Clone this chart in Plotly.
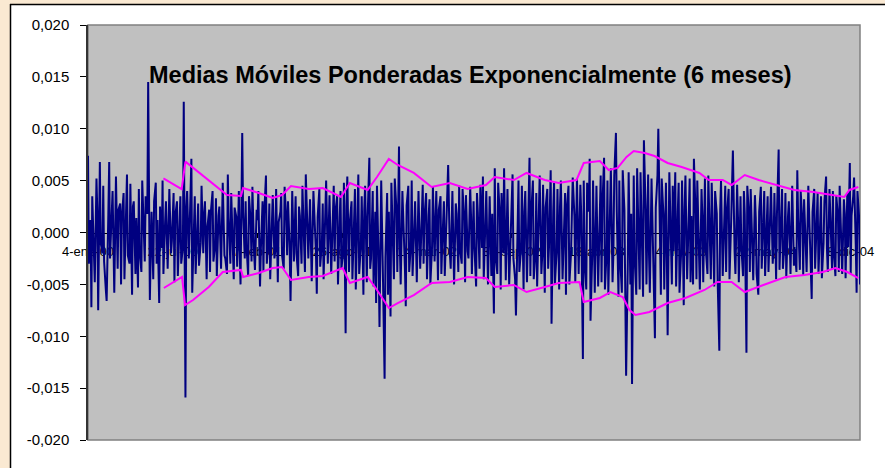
import plotly.graph_objects as go
import pandas as pd

# ---------------- data ----------------
# daily returns, sampled every 2 business days, values in units of 1e-4
ret_1e4 = [
    74, -30, 12, -72, 35, -15, -48, 52, 20, -75, 68, -10, -20, 45, -28,
    -55, -66, 18, 68, -25, 10, 40, -58, -12, 54, -35, 22, 28, -50, 15,
    38, -45, 8, 56, -22, -30, 47, -60, 25, 30, -40, 14, -53, 42, -18,
    -38, 50, -10, -28, 35, 18, 145, -65, -22, 20, -45, 30, 48, -30, 12,
    -68, 25, -15, 50, -40, 10, 30, -35, 20, 42, -20, -8, 38, -48, 16,
    30, -42, 12, 35, -30, -14, 126, -159, 24, 40, -25, 8, 71, -58, -20,
    35, -40, 15, 28, -32, -10, 45, -20, 18, 30, -45, 6, 22, -38, 20,
    40, -28, -12, 33, -42, 16, 25, -35, 10, 48, -22, -25, -40, 56, 14,
    -30, 38, -8, -45, 24, 15, -33, 40, -18, -50, 96, 20, -25, 30, -12,
    -42, 35, 10, -28, 44, -20, -36, 22, 12, 40, -52, -16, 30, -38, 18,
    55, -30, -6, 28, -45, 14, 36, -25, -18, 42, -48, 10, 20, 38, -22,
    -35, 44, 12, -22, 30, -15, -66, 40, 8, -28, 35, -20, -42, 25, 16,
    -30, 45, -14, -38, 56, 10, -25, 32, -18, -47, 40, 22, -20, -59, 15,
    42, -33, -10, 28, -45, 18, 50, -30, 12, 36, -40, -16, 45, -28, 20,
    35, -50, 14, 40, -35, -20, 48, -97, 25, 54, -38, 10, 30, -45, -18,
    42, -55, 18, 56, -40, -12, 35, -60, 22, 45, -48, 15, 72, -35, -25,
    40, -52, 20, -68, 45, -30, -91, 50, 16, -40, -141, -24, 38, -60, 20,
    -81, 48, -18, -45, 52, 22, -38, 83, -14, -50, 40, 18, -35, -71, 26,
    45, -38, -12, 50, -42, 15, 30, -48, 20, 40, -35, -10, 46, -30, 14,
    38, -45, 16, 32, -50, -14, 44, -28, 10, 40, -46, 22, 35, -40, -12,
    30, -42, 14, 48, 65, -20, -35, 40, -10, -50, 28, 18, -38, 45, -16,
    -30, 42, 12, -48, 36, -18, -25, 44, 16, -40, 30, -14, -52, 38, 20,
    -35, 46, -15, 54, -45, 20, 40, -50, -12, 35, -42, 18, -78, 62, -22,
    -40, 48, 16, -55, 38, -20, 62, -46, 14, 42, -50, -18, 30, 56, -25,
    -45, -80, 22, 50, -38, -16, 45, -55, 20, 40, -48, -12, 72, -42, 18,
    50, -45, -20, 38, -52, 15, 55, -40, -22, 46, -58, 24, 42, -35, -14,
    60, -88, 20, 48, -50, -18, 42, -55, 25, 50, -45, -15, 38, -60, 22,
    45, -50, -20, 40, 53, 16, -48, 52, -24, -40, 46, 18, -122, 50, -26,
    -55, 48, 20, 71, -85, -22, 50, -58, 16, 45, -52, -20, 55, -48, 25,
    72, -55, -18, 50, -60, 24, 62, -48, -20, 55, 96, 20, -62, 50, -25,
    -58, 60, 22, -52, -138, -30, 58, -50, 18, -146, 55, -24, -60, 62, 20,
    -55, 58, -16, -62, 89, 22, -50, 56, -20, -58, 52, 18, -48, -102, 24,
    55, 100, -22, -60, 52, 18, -55, 48, -16, -99, 58, 20, -50, 45, -18,
    58, -52, 20, 48, -58, -18, 50, -70, 22, 55, -45, -14, 52, -48, 16,
    -50, 71, 18, -45, 50, -20, -55, 42, 14, -48, 52, -16, -40, 55, 20,
    -45, 48, -15, -52, 40, 18, -46, -114, 22, 50, -42, -12, 45, -38, 16,
    42, -45, 12, 38, 79, -18, -40, 46, 15, -48, 35, -14, -42, 40, 18,
    -116, 45, 16, -38, 42, -12, -46, 36, 14, -40, -60, 20, 44, -35, -15,
    40, -42, 10, 35, -38, 16, 44, -30, -12, 38, -45, 18, 80, -36, -14,
    42, -35, -10, 38, -44, 15, 30, -40, 12, 45, -32, -16, -38, 60, 14,
    -36, 40, 10, -42, 32, -14, -38, 45, 16, -30, -64, 20, 42, -35, -12,
    38, -40, 14, 35, -44, -10, 30, 54, -16, -38, 42, 12, -35, 40, -18,
    -42, 36, 15, -38, 45, -12, -40, 32, 18, -44, 38, -14, 67, -40, 16,
    35, 53, -12, -58, 40, 14, -50,
]
ret_start = "2000-01-04"

upper_dates = [
    "2000-06-30", "2000-08-12", "2000-08-21", "2000-09-03", "2000-10-15", "2000-11-27",
    "2000-12-30", "2001-01-04", "2001-02-10", "2001-03-15", "2001-04-06", "2001-04-27",
    "2001-06-08", "2001-07-11", "2001-08-23", "2001-09-13", "2001-10-25", "2001-11-16",
    "2001-12-14", "2002-01-04", "2002-02-11", "2002-03-25", "2002-05-07", "2002-06-18",
    "2002-07-31", "2002-08-21", "2002-10-05", "2002-11-04", "2002-12-17", "2003-01-19",
    "2003-03-02", "2003-03-19", "2003-04-26", "2003-05-17", "2003-06-07", "2003-06-28",
    "2003-07-15", "2003-08-10", "2003-09-02", "2003-10-03", "2003-11-05", "2003-12-17",
    "2004-01-08", "2004-02-10", "2004-03-02", "2004-04-02", "2004-05-05", "2004-06-16",
    "2004-07-28", "2004-09-11", "2004-10-24", "2004-11-23", "2004-12-05", "2004-12-26",
]
upper_vals = [
    0.00522, 0.00419, 0.00683, 0.00641, 0.00506, 0.00361,
    0.00352, 0.00429, 0.00381, 0.00333, 0.00361, 0.00448,
    0.00419, 0.00429, 0.00342, 0.00477, 0.00410, 0.00535,
    0.00709, 0.00651, 0.00574, 0.00439, 0.00477, 0.00419,
    0.00458, 0.00535, 0.00506, 0.00574, 0.00506, 0.00477,
    0.00506, 0.00670, 0.00689, 0.00602, 0.00622, 0.00728,
    0.00786, 0.00766, 0.00737, 0.00670, 0.00631, 0.00574,
    0.00506, 0.00506, 0.00458, 0.00554, 0.00506, 0.00458,
    0.00410, 0.00390, 0.00361, 0.00342, 0.00410, 0.00439,
]

lower_dates = [
    "2000-07-01", "2000-08-13", "2000-08-20", "2000-09-08", "2000-10-15", "2000-11-17",
    "2000-12-30", "2001-01-04", "2001-02-10", "2001-03-15", "2001-04-06", "2001-04-27",
    "2001-06-08", "2001-07-11", "2001-08-27", "2001-09-13", "2001-10-25", "2001-11-16",
    "2001-12-14", "2002-01-04", "2002-02-11", "2002-03-25", "2002-05-07", "2002-06-18",
    "2002-07-31", "2002-08-21", "2002-10-05", "2002-11-04", "2002-12-17", "2003-01-19",
    "2003-03-09", "2003-03-19", "2003-04-26", "2003-05-21", "2003-06-19", "2003-07-05",
    "2003-07-19", "2003-08-21", "2003-10-03", "2003-11-14", "2003-12-29", "2004-01-29",
    "2004-03-02", "2004-04-02", "2004-05-16", "2004-07-07", "2004-08-21", "2004-10-03",
    "2004-11-02", "2004-11-30", "2004-12-26",
]
lower_vals = [
    -0.00535, -0.00429, -0.00699, -0.00651, -0.00525, -0.00381,
    -0.00361, -0.00429, -0.00390, -0.00342, -0.00333, -0.00458,
    -0.00429, -0.00419, -0.00342, -0.00487, -0.00429, -0.00554,
    -0.00728, -0.00680, -0.00603, -0.00487, -0.00477, -0.00429,
    -0.00439, -0.00525, -0.00506, -0.00574, -0.00525, -0.00487,
    -0.00477, -0.00670, -0.00631, -0.00574, -0.00622, -0.00747,
    -0.00795, -0.00766, -0.00680, -0.00631, -0.00554, -0.00477,
    -0.00477, -0.00574, -0.00506, -0.00429, -0.00410, -0.00381,
    -0.00342, -0.00381, -0.00439,
]

tick_dates = ["2000-01-04", "2000-07-22", "2001-02-07", "2001-08-26", "2002-03-14",
              "2002-09-30", "2003-04-18", "2003-11-04", "2004-05-22", "2004-12-08"]
tick_labels = ["4-ene-00", "22-jul-00", "7-feb-01", "26-ago-01", "14-mar-02",
               "30-sep-02", "18-abr-03", "4-nov-03", "22-may-04", "8-dic-04"]
x_range = ["2000-01-04", "2004-12-30"]

y_tick_vals = [-0.020, -0.015, -0.010, -0.005, 0.0, 0.005, 0.010, 0.015, 0.020]
y_tick_labels = ["-0,020", "-0,015", "-0,010", "-0,005", "0,000",
                 "0,005", "0,010", "0,015", "0,020"]

title_text = "Medias Móviles Ponderadas Exponencialmente (6 meses)"

# ---------------- figure ----------------
ret_dates = pd.bdate_range(ret_start, periods=len(ret_1e4), freq="2B")
ret_vals = [v / 10000.0 for v in ret_1e4]

W, H = 885, 468
L, R, T, B = 88, 25, 25, 28
pw, ph = W - L - R, H - T - B

def px(x):
    return (x - L) / pw

def py(y):
    return (H - B - y) / ph

FONT = "Liberation Sans, Arial, sans-serif"
CREAM = "#FAE9D2"

fig = go.Figure()
fig.add_trace(go.Scatter(x=ret_dates, y=ret_vals, mode="lines",
                         line=dict(color="#000080", width=2), showlegend=False,
                         hoverinfo="skip"))
fig.add_trace(go.Scatter(x=upper_dates, y=upper_vals, mode="lines",
                         line=dict(color="#FF00FF", width=2), showlegend=False))
fig.add_trace(go.Scatter(x=lower_dates, y=lower_vals, mode="lines",
                         line=dict(color="#FF00FF", width=2), showlegend=False))

shapes = [
    dict(type="rect", xref="paper", yref="paper", x0=px(-5), x1=px(10), y0=py(H + 5), y1=py(-5),
         fillcolor=CREAM, line=dict(width=0), layer="below"),
    dict(type="rect", xref="paper", yref="paper", x0=px(-5), x1=px(W + 5), y0=py(4), y1=py(-5),
         fillcolor=CREAM, line=dict(width=0), layer="below"),
    dict(type="line", xref="paper", yref="paper", x0=px(10.5), x1=px(10.5), y0=py(4), y1=py(H + 5),
         line=dict(color="#000000", width=1.5)),
    dict(type="line", xref="paper", yref="paper", x0=px(10), x1=px(W + 5), y0=py(4.5), y1=py(4.5),
         line=dict(color="#000000", width=1.5)),
    dict(type="rect", xref="paper", yref="paper", x0=0, x1=1, y0=0, y1=1,
         line=dict(color="#808080", width=1.5), layer="below"),
]

fig.update_layout(
    width=W, height=H,
    margin=dict(l=L, r=R, t=T, b=B, pad=0),
    paper_bgcolor="#FFFFFF",
    plot_bgcolor="#C0C0C0",
    font=dict(family=FONT, size=13, color="#000000"),
    shapes=shapes,
    showlegend=False,
    xaxis=dict(
        type="date", range=x_range,
        tickvals=tick_dates, ticktext=tick_labels,
        anchor="free", position=0.5,
        showline=True, linecolor="#000000", linewidth=1,
        ticks="outside", ticklen=4, tickcolor="#000000",
        ticklabelstandoff=3,
        showgrid=False, zeroline=False,
        layer="below traces",
        tickfont=dict(family=FONT, size=13, color="#000000"),
    ),
    yaxis=dict(
        range=[-0.02, 0.02], tickvals=y_tick_vals, ticktext=y_tick_labels,
        showline=True, linecolor="#333333", linewidth=1.5,
        ticks="outside", ticklen=6, tickcolor="#000000",
        ticklabelstandoff=8,
        showgrid=False, zeroline=False,
        tickfont=dict(family=FONT, size=15, color="#000000"),
    ),
    annotations=[dict(
        text="<b>" + title_text + "</b>", xref="paper", yref="paper",
        x=px(470), y=py(75), xanchor="center", yanchor="middle", showarrow=False,
        font=dict(family=FONT, size=23.5, color="#000000"),
    )],
)

fig.write_html("out.html", config={"displayModeBar": False},
               post_script="document.body.style.margin='0';")
